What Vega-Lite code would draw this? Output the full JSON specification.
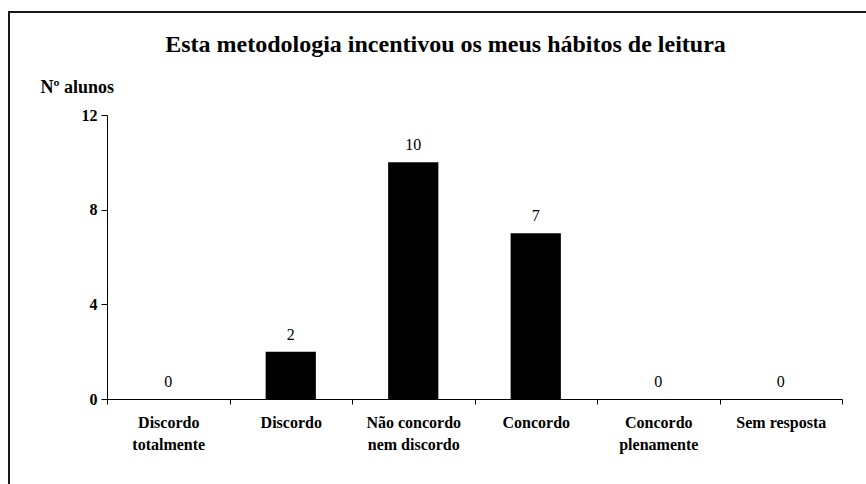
{
  "$schema": "https://vega.github.io/schema/vega-lite/v6.json",
  "autosize": "none",
  "width": 859,
  "height": 474,
  "padding": {"left": 9, "top": 12, "right": 0, "bottom": 0},
  "background": "white",
  "view": {"stroke": "#1a1a1a", "strokeWidth": 2, "fill": "white"},
  "title": {
    "text": "Esta metodologia incentivou os meus hábitos de leitura",
    "font": "Liberation Serif",
    "fontSize": 24,
    "fontWeight": "bold",
    "color": "black",
    "anchor": "middle",
    "frame": "group",
    "dx": 7,
    "offset": -45
  },
  "data": {
    "values": [
      {"categoria": "Discordo totalmente", "alunos": 0},
      {"categoria": "Discordo", "alunos": 2},
      {"categoria": "Não concordo nem discordo", "alunos": 10},
      {"categoria": "Concordo", "alunos": 7},
      {"categoria": "Concordo plenamente", "alunos": 0},
      {"categoria": "Sem resposta", "alunos": 0}
    ]
  },
  "encoding": {
    "x": {
      "field": "categoria",
      "type": "nominal",
      "sort": null,
      "scale": {"paddingInner": 0, "paddingOuter": 0, "range": [98, 833]},
      "axis": {
        "title": null,
        "offset": -87,
        "labelAngle": 0,
        "tickBand": "extent",
        "labelFont": "Liberation Serif",
        "labelFontSize": 16,
        "labelFontWeight": "bold",
        "labelColor": "black",
        "labelLineHeight": 22,
        "labelPadding": 10,
        "labelBaseline": "top",
        "tickSize": 5,
        "tickColor": "black",
        "domainColor": "black",
        "labelExpr": "datum.label == 'Discordo totalmente' ? ['Discordo', 'totalmente'] : datum.label == 'Não concordo nem discordo' ? ['Não concordo', 'nem discordo'] : datum.label == 'Concordo plenamente' ? ['Concordo', 'plenamente'] : datum.label"
      }
    },
    "y": {
      "field": "alunos",
      "type": "quantitative",
      "scale": {"domain": [0, 12], "nice": false, "range": [387, 103]},
      "axis": {
        "offset": -98,
        "values": [0, 4, 8, 12],
        "grid": false,
        "title": "Nº alunos",
        "titleAngle": 0,
        "titleFont": "Liberation Serif",
        "titleFontSize": 18,
        "titleFontWeight": "bold",
        "titleColor": "black",
        "titleAlign": "left",
        "titleBaseline": "alphabetic",
        "titleX": -67,
        "titleY": 80,
        "labelFont": "Liberation Serif",
        "labelFontSize": 16,
        "labelFontWeight": "bold",
        "labelColor": "black",
        "labelPadding": 4,
        "tickSize": 6,
        "tickColor": "black",
        "domainColor": "black"
      }
    }
  },
  "layer": [
    {
      "mark": {"type": "bar", "color": "black", "width": {"band": 0.41}}
    },
    {
      "mark": {
        "type": "text",
        "font": "Liberation Serif",
        "fontSize": 16,
        "color": "black",
        "baseline": "alphabetic",
        "dy": -12
      },
      "encoding": {"text": {"field": "alunos", "type": "quantitative"}}
    }
  ]
}
